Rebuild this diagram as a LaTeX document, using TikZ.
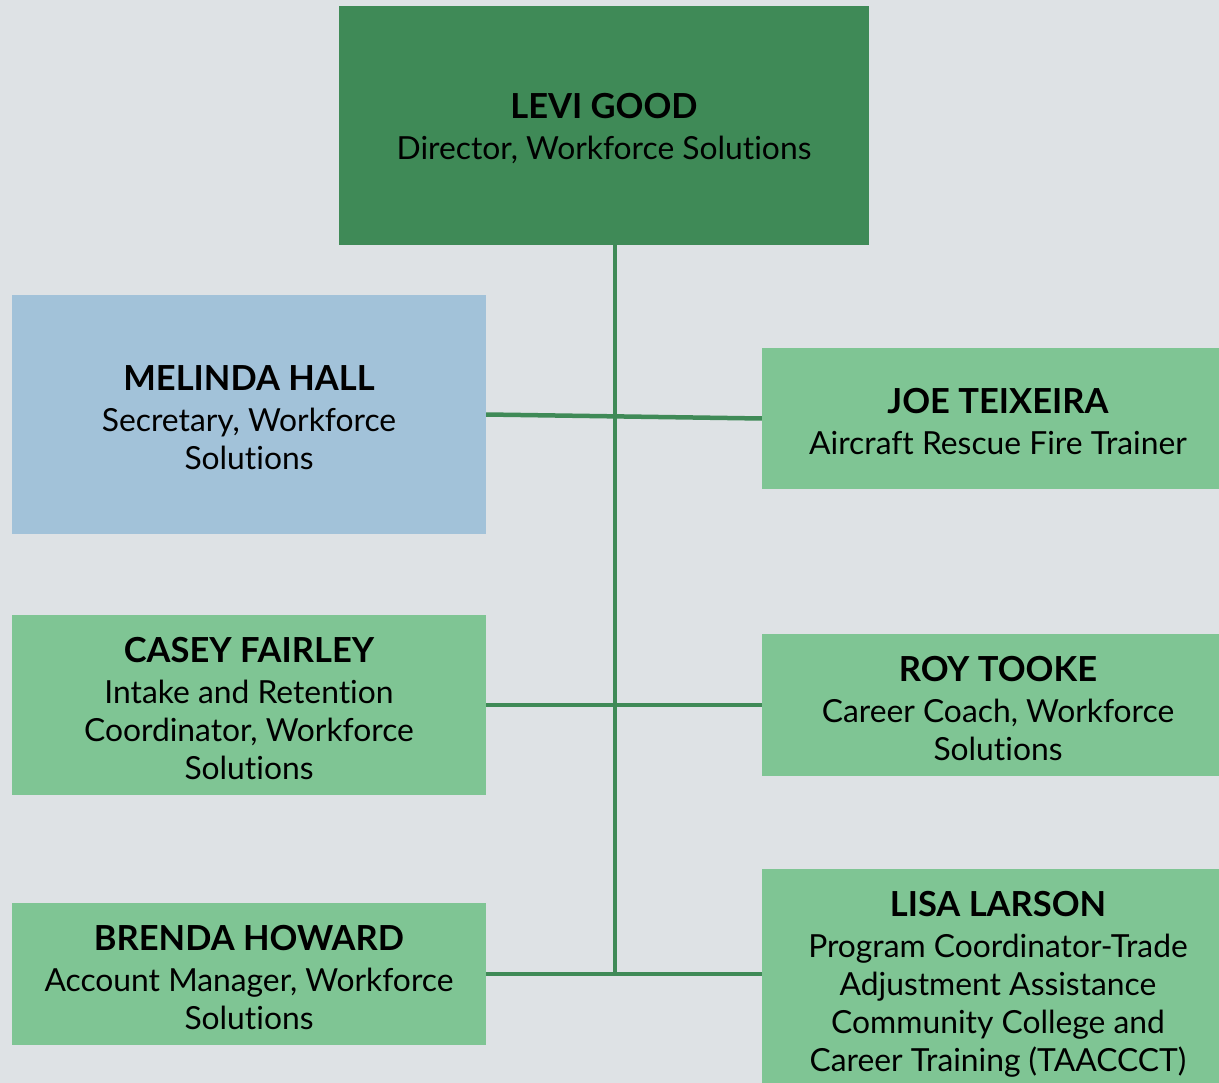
\documentclass[tikz,border=0pt]{standalone}
\usepackage{fontspec}
\setmainfont{Lato}[Ligatures=NoCommon]
\definecolor{bgcol}{HTML}{DEE2E5}
\definecolor{dgreen}{HTML}{3F8A57}
\definecolor{lgreen}{HTML}{7FC594}
\definecolor{lblue}{HTML}{A2C2D9}
\begin{document}
\begin{tikzpicture}[x=1pt,y=-1pt,
  box/.style={rectangle,inner sep=0pt,align=center,text=black,font=\fontsize{31.8}{38}\selectfont},
  link/.style={draw=dgreen,line width=4.5pt}]
\fill[bgcol] (0,0) rectangle (1219,1083);
\useasboundingbox (0,0) rectangle (1219,1083);
\newcommand{\who}[1]{{\bfseries\fontsize{34.5}{40}\selectfont\rule{0pt}{32pt}#1}\\[3pt]}
% top
\node[box,fill=dgreen,minimum width=530,minimum height=239] (LG) at (604,125.5) {\who{LEVI GOOD}Director, Workforce Solutions};
% left column
\node[box,fill=lblue,minimum width=474,minimum height=239] (MH) at (249,414.5) {\who{MELINDA HALL}Secretary, Workforce\\Solutions};
\node[box,fill=lgreen,minimum width=474,minimum height=180] (CF) at (249,705) {\who{CASEY FAIRLEY}Intake and Retention\\Coordinator, Workforce\\Solutions};
\node[box,fill=lgreen,minimum width=474,minimum height=142] (BH) at (249,974) {\who{BRENDA HOWARD}Account Manager, Workforce\\Solutions};
% right column
\node[box,fill=lgreen,minimum width=472,minimum height=141] (JT) at (998,418.5) {\who{JOE TEIXEIRA}Aircraft Rescue Fire Trainer};
\node[box,fill=lgreen,minimum width=472,minimum height=142] (RT) at (998,705) {\who{ROY TOOKE}Career Coach, Workforce\\Solutions};
\node[box,fill=lgreen,minimum width=472,minimum height=224] (LL) at (998,981) {\who{LISA LARSON}Program Coordinator-Trade\\Adjustment Assistance\\Community College and\\Career Training (TAACCCT)};
% connectors
\coordinate (foot) at (615,976);
\draw[link] (LG.south -| foot) -- (foot);
\draw[link] (MH.east) -- (JT.west);
\draw[link] (CF.east) -- (RT.west);
\draw[link] (BH.east) -- (BH.east -| LL.west);
\end{tikzpicture}
\end{document}
